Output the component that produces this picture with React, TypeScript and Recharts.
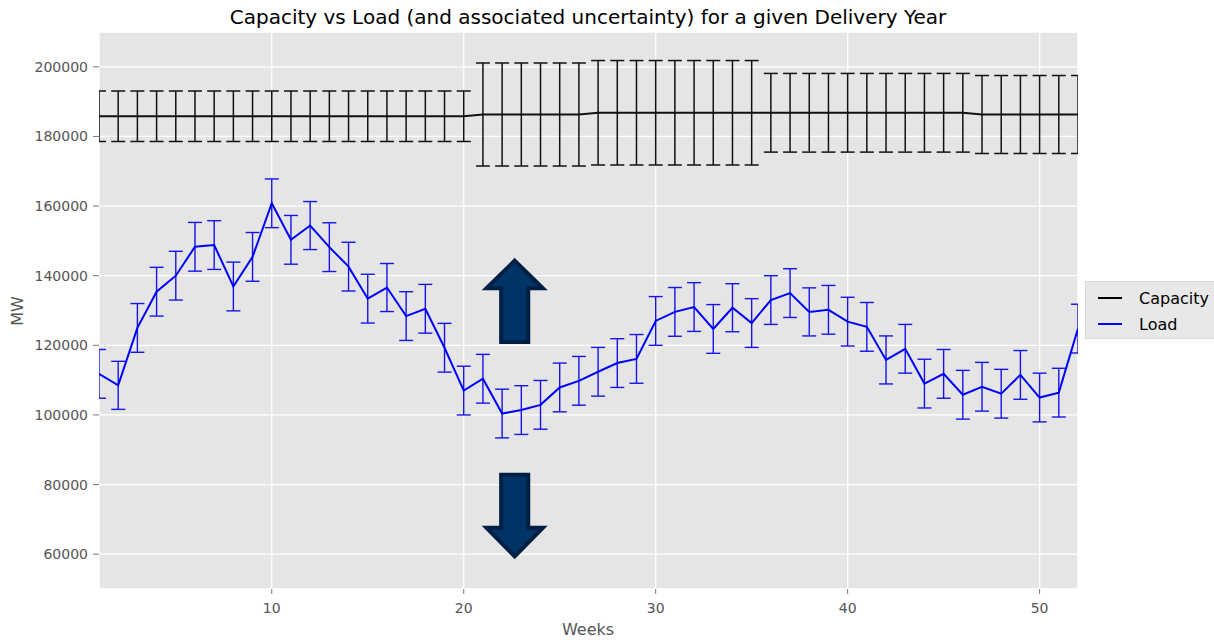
import { LineChart, Line, XAxis, YAxis, CartesianGrid, ErrorBar, ReferenceArea } from 'recharts';

const WEEKS = [
  1, 2, 3, 4, 5, 6, 7, 8, 9, 10, 11, 12, 13, 14, 15, 16, 17, 18, 19, 20, 21, 22, 23, 24, 25, 26,
  27, 28, 29, 30, 31, 32, 33, 34, 35, 36, 37, 38, 39, 40, 41, 42, 43, 44, 45, 46, 47, 48, 49, 50, 51, 52,
];

const CAPACITY = [
  185800, 185800, 185800, 185800, 185800, 185800, 185800, 185800, 185800, 185800,
  185800, 185800, 185800, 185800, 185800, 185800, 185800, 185800, 185800, 185800,
  186300, 186300, 186300, 186300, 186300, 186300,
  186800, 186800, 186800, 186800, 186800, 186800, 186800, 186800, 186800,
  186800, 186800, 186800, 186800, 186800, 186800, 186800, 186800, 186800, 186800, 186800,
  186300, 186300, 186300, 186300, 186300, 186300,
];

const CAPACITY_ERR = [
  7250, 7250, 7250, 7250, 7250, 7250, 7250, 7250, 7250, 7250,
  7250, 7250, 7250, 7250, 7250, 7250, 7250, 7250, 7250, 7250,
  14800, 14800, 14800, 14800, 14800, 14800,
  15000, 15000, 15000, 15000, 15000, 15000, 15000, 15000, 15000,
  11300, 11300, 11300, 11300, 11300, 11300, 11300, 11300, 11300, 11300, 11300,
  11200, 11200, 11200, 11200, 11200, 11200,
];

const LOAD = [
  111800, 108500, 125000, 135400, 140000, 148300, 148800, 136900, 145400, 160800,
  150300, 154400, 148200, 142600, 133400, 136600, 128400, 130500, 119300, 107000,
  110400, 100400, 101400, 102900, 107900, 109800, 112400, 114900, 116100, 127000,
  129600, 131000, 124700, 130800, 126400, 133000, 135000, 129600, 130200, 126800,
  125300, 115800, 119000, 109000, 111800, 105800, 108100, 106100, 111500, 105000,
  106400, 124800,
];

const LOAD_ERR = [
  7000, 6900, 7000, 7000, 7000, 7000, 7000, 7000, 7000, 7000,
  7000, 6900, 7000, 7000, 7000, 6900, 7000, 7000, 7000, 7000,
  7000, 7000, 7000, 7000, 7000, 7000, 7000, 7000, 7000, 7000,
  7000, 7000, 7000, 6900, 7000, 7000, 7000, 6900, 7000, 7000,
  7000, 6900, 7000, 7000, 7000, 7000, 7000, 7000, 7000, 7000,
  7000, 7000,
];

const X_TICKS = [10, 20, 30, 40, 50];
const Y_TICKS = [60000, 80000, 100000, 120000, 140000, 160000, 180000, 200000];
const X_DOMAIN = [1, 52];
const Y_DOMAIN = [50000, 210000];

// arrow annotations, in data units
const UP_ARROW = { x1: 21.08, x2: 24.23, y1: 120400, y2: 144900 };
const DOWN_ARROW = { x1: 21.08, x2: 24.23, y1: 58800, y2: 83400 };

const data = WEEKS.map((week, i) => ({
  week,
  capacity: CAPACITY[i],
  capacityErr: CAPACITY_ERR[i],
  load: LOAD[i],
  loadErr: LOAD_ERR[i],
}));

const FONT = '"DejaVu Sans", sans-serif';
const TEXT_GREY = '#555555';
const TICK_GREY = '#777777';
const ARROW_FILL = '#003366';
const ARROW_EDGE = '#001f45';

function arrowShape(up: boolean) {
  return (p: any) => {
    const s = 2;
    const x = p.x + s;
    const y = p.y + s;
    const w = p.width - 2 * s;
    const h = p.height - 2 * s;
    const pts = up
      ? [
          [x + w / 2, y],
          [x + w, y + h * 0.34],
          [x + w * 0.74, y + h * 0.34],
          [x + w * 0.74, y + h],
          [x + w * 0.26, y + h],
          [x + w * 0.26, y + h * 0.34],
          [x, y + h * 0.34],
        ]
      : [
          [x + w * 0.26, y],
          [x + w * 0.74, y],
          [x + w * 0.74, y + h * 0.65],
          [x + w, y + h * 0.65],
          [x + w / 2, y + h],
          [x, y + h * 0.65],
          [x + w * 0.26, y + h * 0.65],
        ];
    return (
      <polygon
        points={pts.map((q) => q.join(',')).join(' ')}
        fill={ARROW_FILL}
        stroke={ARROW_EDGE}
        strokeWidth={4}
        strokeLinejoin="miter"
      />
    );
  };
}

// plot-area clip for the error bars (matplotlib clips them at the axes edge)
const plotClip = (p: any) => (
  <g>
    <defs>
      <clipPath id="plot-clip" clipPathUnits="userSpaceOnUse">
        <rect x={p.x} y={p.y} width={p.width} height={p.height} />
      </clipPath>
    </defs>
  </g>
);

function LegendBox() {
  const rows = [
    { name: 'Capacity', color: '#000000' },
    { name: 'Load', color: '#0000ff' },
  ];
  return (
    <div
      style={{
        position: 'absolute',
        left: 1085,
        top: 281,
        width: 140,
        height: 58,
        background: '#e8e8e8',
        border: '1px solid #d8d8d8',
        boxSizing: 'border-box',
        fontFamily: FONT,
        fontSize: 16,
        color: '#000',
      }}
    >
      {rows.map((r, i) => (
        <div
          key={r.name}
          style={{ position: 'absolute', left: 12, top: 6 + i * 26, display: 'flex', alignItems: 'center', height: 20 }}
        >
          <div style={{ width: 24, height: 1.5, background: r.color }} />
          <span style={{ marginLeft: 17 }}>{r.name}</span>
        </div>
      ))}
    </div>
  );
}

export default function App() {
  return (
    <div style={{ position: 'absolute', left: 0, top: 0, width: 1214, height: 640, overflow: 'hidden', background: '#fff', fontFamily: FONT }}>
      <style>
        {'.recharts-wrapper [class*="errorbar" i], .recharts-wrapper .recharts-line { clip-path: url(#plot-clip); }'}
      </style>
      <div
        style={{
          position: 'absolute',
          left: 0,
          width: 1176,
          top: 5,
          textAlign: 'center',
          fontSize: 20,
          lineHeight: '24px',
          color: '#000',
        }}
      >
        Capacity vs Load (and associated uncertainty) for a given Delivery Year
      </div>

      <LineChart
        width={1214}
        height={640}
        data={data}
        margin={{ top: 26, right: 129, bottom: 0, left: 0 }}
        style={{ position: 'absolute', left: 0, top: 0 }}
      >
        <CartesianGrid fill="#e5e5e5" stroke="#ffffff" strokeWidth={1.3} />
        <XAxis
          dataKey="week"
          type="number"
          domain={X_DOMAIN}
          ticks={X_TICKS}
          allowDataOverflow
          height={51}
          axisLine={false}
          tickLine={{ stroke: TICK_GREY }}
          tickSize={5}
          tickMargin={9}
          tick={{ fill: TEXT_GREY, fontSize: 14, fontFamily: FONT }}
        />
        <XAxis
          xAxisId="top"
          orientation="top"
          type="number"
          domain={X_DOMAIN}
          ticks={X_TICKS}
          height={6}
          axisLine={false}
          tick={false}
          tickLine={{ stroke: TICK_GREY }}
          tickSize={5}
        />
        <YAxis
          type="number"
          domain={Y_DOMAIN}
          ticks={Y_TICKS}
          allowDataOverflow
          width={99}
          axisLine={false}
          tickLine={{ stroke: TICK_GREY }}
          tickSize={6}
          tickMargin={5}
          tick={{ fill: TEXT_GREY, fontSize: 14, fontFamily: FONT }}
        />
        <YAxis
          yAxisId="right"
          orientation="right"
          type="number"
          domain={Y_DOMAIN}
          ticks={Y_TICKS}
          width={7}
          axisLine={false}
          tick={false}
          tickLine={{ stroke: TICK_GREY }}
          tickSize={6}
        />
        <ReferenceArea
          x1={X_DOMAIN[0]}
          x2={X_DOMAIN[1]}
          y1={Y_DOMAIN[0]}
          y2={Y_DOMAIN[1]}
          ifOverflow="visible"
          shape={plotClip}
        />
        <Line
          dataKey="capacity"
          type="linear"
          stroke="#111111"
          strokeWidth={2}
          dot={false}
          activeDot={false}
          isAnimationActive={false}
        >
          <ErrorBar dataKey="capacityErr" width={7} stroke="#111111" strokeWidth={1.5} isAnimationActive={false} />
        </Line>
        <Line
          dataKey="load"
          type="linear"
          stroke="#0000ff"
          strokeWidth={2}
          dot={false}
          activeDot={false}
          isAnimationActive={false}
        >
          <ErrorBar dataKey="loadErr" width={7} stroke="#1515e8" strokeWidth={1.4} isAnimationActive={false} />
        </Line>
        <ReferenceArea {...UP_ARROW} ifOverflow="visible" shape={arrowShape(true)} />
        <ReferenceArea {...DOWN_ARROW} ifOverflow="visible" shape={arrowShape(false)} />
      </LineChart>

      <div
        style={{
          position: 'absolute',
          left: 17,
          top: 311,
          transform: 'translate(-50%, -50%) rotate(-90deg)',
          fontSize: 16,
          color: TEXT_GREY,
          whiteSpace: 'nowrap',
        }}
      >
        MW
      </div>
      <div
        style={{
          position: 'absolute',
          left: 0,
          width: 1176,
          top: 620,
          textAlign: 'center',
          fontSize: 16,
          lineHeight: '20px',
          color: TEXT_GREY,
        }}
      >
        Weeks
      </div>

      <LegendBox />
    </div>
  );
}
